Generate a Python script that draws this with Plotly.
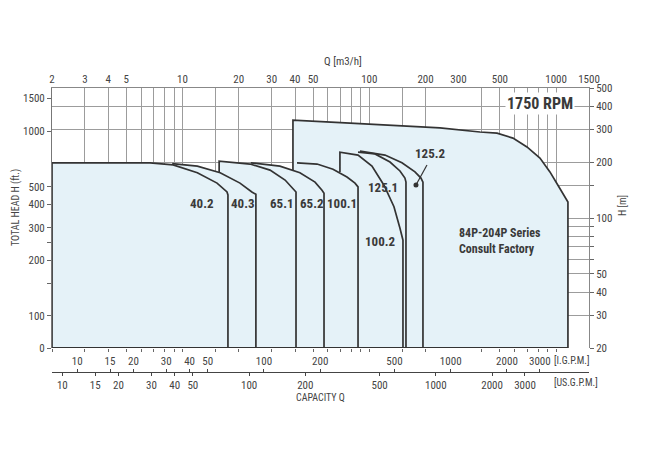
import math
import plotly.graph_objects as go

# ---------------- data ----------------
# flow in m3/h, head in m
q_grid = [2, 3, 4, 5, 6, 7, 8, 9, 10, 15, 20, 30, 40, 50, 60, 70, 80, 90, 100, 150, 200,
          400, 500, 600, 700, 800, 900, 1000]
q_top_ticks = [2, 3, 4, 5, 10, 20, 30, 40, 50, 100, 200, 300, 500, 1000, 1500]
igpm_ticks = [10, 15, 20, 30, 40, 50, 100, 200, 500, 1000, 2000, 3000]
usgpm_ticks = [10, 15, 20, 30, 40, 50, 100, 200, 500, 1000, 2000, 3000]
h_m_ticks = [20, 30, 40, 50, 60, 70, 80, 90, 100, 150, 200, 300, 400, 500]
h_m_labels = ['20', '30', '40', '50', '', '', '', '', '100', '', '200', '300', '400', '500']
h_ft_ticks = [67.1, 100, 150, 200, 250, 300, 400, 500, 1000, 1500]
h_ft_labels = ['0', '100', '', '200', '', '300', '400', '500', '1000', '1500']

q_range = [2, 1500]
h_range = [20, 500]
ft_range = [67.1, 1708]
M3H_TO_IGPM = 3.6662
M3H_TO_USGPM = 4.4029

model_names = ['40.2', '40.3', '65.1', '65.2', '100.1', '100.2', '125.1', '125.2', 'big']

q_40_2 = [2, 2, 6.7, 8.9, 12.0, 15.3, 17.3, 17.5, 17.5]
h_40_2 = [20, 198, 198, 193, 175, 154, 138, 133, 20]

q_40_3 = [8.8, 12.0, 15.9, 20.3, 23.5, 24.7, 24.7]
h_40_3 = [196, 190, 175, 154, 138, 134, 20]

q_65_1 = [15.7, 15.7, 23.0, 29.4, 35.4, 39.0, 40.5, 40.5]
h_65_1 = [177, 202, 195, 181, 160, 145, 138, 20]

q_65_2 = [23.2, 33.2, 42.5, 51.2, 55.8, 57.2, 57.2]
h_65_2 = [198, 190, 175, 156, 141, 136, 20]

q_100_1 = [41.0, 52.5, 63.9, 75.9, 83.8, 87.0, 87.0]
h_100_1 = [198, 195, 183, 166, 154, 147, 20]

q_100_2 = [69.6, 69.6, 87.0, 103.3, 119.8, 135.5, 145.9, 151.4, 151.4]
h_100_2 = [177, 226, 218, 190, 150, 115, 88, 76, 20]

q_125_1 = [87.0, 107.2, 129.0, 145.9, 155.1, 157.1, 157.1]
h_125_1 = [226, 221, 200, 179, 164, 156, 20]

q_125_2 = [89.1, 121.3, 149.5, 175.5, 189.0, 193.7, 193.7]
h_125_2 = [229, 218, 198, 177, 164, 156, 20]

q_big = [39.0, 39.0, 78.8, 145.9, 238.8, 391.1, 482.4, 587.4, 698.1, 819.3, 926.8, 1023, 1115, 1157, 1157]
h_big = [180, 336, 324, 312, 305, 290, 286, 269, 241, 210, 177, 150, 130, 122, 20]

label_text = ['40.2', '40.3', '65.1', '65.2', '100.1', '100.2', '125.1', '125.2']
label_q = [12.7, 21.1, 34.1, 49.3, 71.4, 114.0, 118.3, 211.0]
label_h = [120.4, 120.4, 120.4, 120.4, 120.4, 74.3, 146.7, 222.0]

pointer_q = [177.7, 203.5]
pointer_h = [150.5, 192.7]

series_text = '84P-204P Series<br>Consult Factory'
series_q, series_h = 294.5, 75.0

rpm_text = '1750 RPM'
rpm_q, rpm_h = 819, 415

# ---------------- styling ----------------
W, H = 650, 454
ML, MR, MT, MB = 52, 61, 88, 0
FILL = '#e5f2f8'
LINE = '#333333'
GRID = '#9c9c9c'
TXT = '#444444'
FONT = 'Liberation Sans Narrow, Arial Narrow, Roboto Condensed, Roboto, Open Sans, sans-serif'


def px(x):
    return (x - ML) / (W - ML - MR)


def py(y):
    return (H - MB - y) / (H - MT - MB)


lg = math.log10
shapes_q = [q_40_2, q_40_3, q_65_1, q_65_2, q_100_1, q_100_2, q_125_1, q_125_2, q_big]
shapes_h = [h_40_2, h_40_3, h_65_1, h_65_2, h_100_1, h_100_2, h_125_1, h_125_2, h_big]

fig = go.Figure()

# fills
for name, qs, hs in zip(model_names, shapes_q, shapes_h):
    fq = [qs[0]] + qs + [qs[0]]
    fh = [h_range[0]] + hs + [h_range[0]]
    fig.add_trace(go.Scatter(x=fq, y=fh, fill='toself', fillcolor=FILL, mode='none',
                             hoverinfo='skip', showlegend=False))

# outlines
for name, qs, hs in zip(model_names, shapes_q, shapes_h):
    fig.add_trace(go.Scatter(x=qs, y=hs, mode='lines', line=dict(color=LINE, width=1.7),
                             hoverinfo='skip', showlegend=False))

# bottom line of the envelope
fig.add_trace(go.Scatter(x=[min(q_40_2), max(q_big)], y=[h_range[0], h_range[0]], mode='lines',
                         line=dict(color=LINE, width=2), hoverinfo='skip', showlegend=False))

# 125.2 pointer
fig.add_trace(go.Scatter(x=pointer_q, y=pointer_h, mode='lines', line=dict(color=LINE, width=1.2),
                         hoverinfo='skip', showlegend=False))
fig.add_trace(go.Scatter(x=[pointer_q[0]], y=[pointer_h[0]], mode='markers',
                         marker=dict(color=LINE, size=5), hoverinfo='skip', showlegend=False))

# dummy traces so secondary axes exist
fig.add_trace(go.Scatter(x=[10], y=[100], xaxis='x2', yaxis='y', mode='markers',
                         marker=dict(opacity=0), hoverinfo='skip', showlegend=False))
fig.add_trace(go.Scatter(x=[10], y=[100], xaxis='x', yaxis='y2', mode='markers',
                         marker=dict(opacity=0), hoverinfo='skip', showlegend=False))
fig.add_trace(go.Scatter(x=[100], y=[100], xaxis='x3', yaxis='y', mode='markers',
                         marker=dict(opacity=0), hoverinfo='skip', showlegend=False))
fig.add_trace(go.Scatter(x=[100], y=[100], xaxis='x4', yaxis='y', mode='markers',
                         marker=dict(opacity=0), hoverinfo='skip', showlegend=False))

tickfont = dict(family=FONT, size=11, color=TXT)
ydom = [py(348), 1]
free_pos = py(372)

fig.update_layout(
    width=W, height=H,
    margin=dict(l=ML, r=MR, t=MT, b=MB, pad=0, autoexpand=False),
    paper_bgcolor='white', plot_bgcolor='white',
    showlegend=False,
    xaxis=dict(type='log', range=[lg(q_range[0]), lg(q_range[1])], tickvals=q_grid,
               showticklabels=False, ticks='outside', ticklen=3, tickcolor='#666',
               showgrid=True, gridcolor=GRID, gridwidth=1, zeroline=False, showline=False,
               anchor='y', automargin=False),
    xaxis2=dict(type='log', range=[lg(q_range[0]), lg(q_range[1])], overlaying='x', side='top',
                anchor='y', tickvals=q_top_ticks, ticktext=[str(v) for v in q_top_ticks],
                ticks='', showgrid=False, showline=True, linecolor='#888', linewidth=1,
                tickfont=tickfont, zeroline=False, automargin=False),
    xaxis3=dict(type='log', range=[lg(q_range[0] * M3H_TO_IGPM), lg(q_range[1] * M3H_TO_IGPM)],
                overlaying='x', anchor='free', position=free_pos, side='top',
                tickvals=igpm_ticks, ticktext=[str(v) for v in igpm_ticks],
                ticks='outside', ticklen=3, tickcolor='#444', showgrid=False,
                showline=True, linecolor='#444', linewidth=1.2, tickfont=tickfont,
                zeroline=False, automargin=False),
    xaxis4=dict(type='log', range=[lg(q_range[0] * M3H_TO_USGPM), lg(q_range[1] * M3H_TO_USGPM)],
                overlaying='x', anchor='free', position=free_pos, side='bottom',
                tickvals=usgpm_ticks, ticktext=[str(v) for v in usgpm_ticks],
                ticks='outside', ticklen=3, tickcolor='#444', showgrid=False,
                showline=True, linecolor='#444', linewidth=1.2, tickfont=tickfont,
                zeroline=False, automargin=False),
    yaxis=dict(type='log', range=[lg(h_range[0]), lg(h_range[1])], domain=ydom, side='right',
               anchor='x', tickvals=h_m_ticks, ticktext=h_m_labels, ticks='outside', ticklen=4,
               tickcolor='#666', showgrid=True, gridcolor=GRID, gridwidth=1, showline=True,
               linecolor='#888', linewidth=1, tickfont=tickfont, zeroline=False, automargin=False),
    yaxis2=dict(type='log', range=[lg(ft_range[0]), lg(ft_range[1])], overlaying='y', side='left',
                anchor='x', tickvals=h_ft_ticks, ticktext=h_ft_labels, ticks='outside', ticklen=4,
                tickcolor='#666', showgrid=False, showline=True, linecolor='#777', linewidth=1,
                tickfont=tickfont, zeroline=False, automargin=False),
)

annos = []
for t, q, h in zip(label_text, label_q, label_h):
    annos.append(dict(x=lg(q), y=lg(h), xref='x', yref='y', text=t, showarrow=False,
                      xanchor='center', yanchor='middle',
                      font=dict(family=FONT, size=13, color='#3a3a3a', weight='bold')))
annos.append(dict(x=lg(series_q), y=lg(series_h), xref='x', yref='y', text=series_text,
                  showarrow=False, xanchor='left', yanchor='middle', align='left',
                  font=dict(family=FONT, size=12, color='#3a3a3a', weight='bold')))
annos.append(dict(x=lg(rpm_q), y=lg(rpm_h), xref='x', yref='y', text=rpm_text, showarrow=False,
                  xanchor='center', yanchor='middle', bgcolor='white', borderpad=1,
                  font=dict(family=FONT, size=16, color='#3a3a3a', weight='bold')))


def paper_text(x, y, text, size=11, angle=0):
    annos.append(dict(x=px(x), y=py(y), xref='paper', yref='paper', text=text,
                      showarrow=False, xanchor='center', yanchor='middle', textangle=angle,
                      font=dict(family=FONT, size=size, color=TXT)))


paper_text(343, 62, 'Q [m3/h]')
paper_text(320, 397, 'CAPACITY Q', 10)
paper_text(571, 360, '[I.G.P.M.]', 10)
paper_text(576, 382, '[US.G.P.M.]', 10)
paper_text(16, 208, 'TOTAL HEAD H (ft.)', 10, -90)
paper_text(622, 206, 'H [m]', 10, -90)
fig.update_layout(annotations=annos)

fig.write_html('out.html', config={'displayModeBar': False},
               post_script="document.body.style.margin='0';document.body.style.overflow='hidden';")
